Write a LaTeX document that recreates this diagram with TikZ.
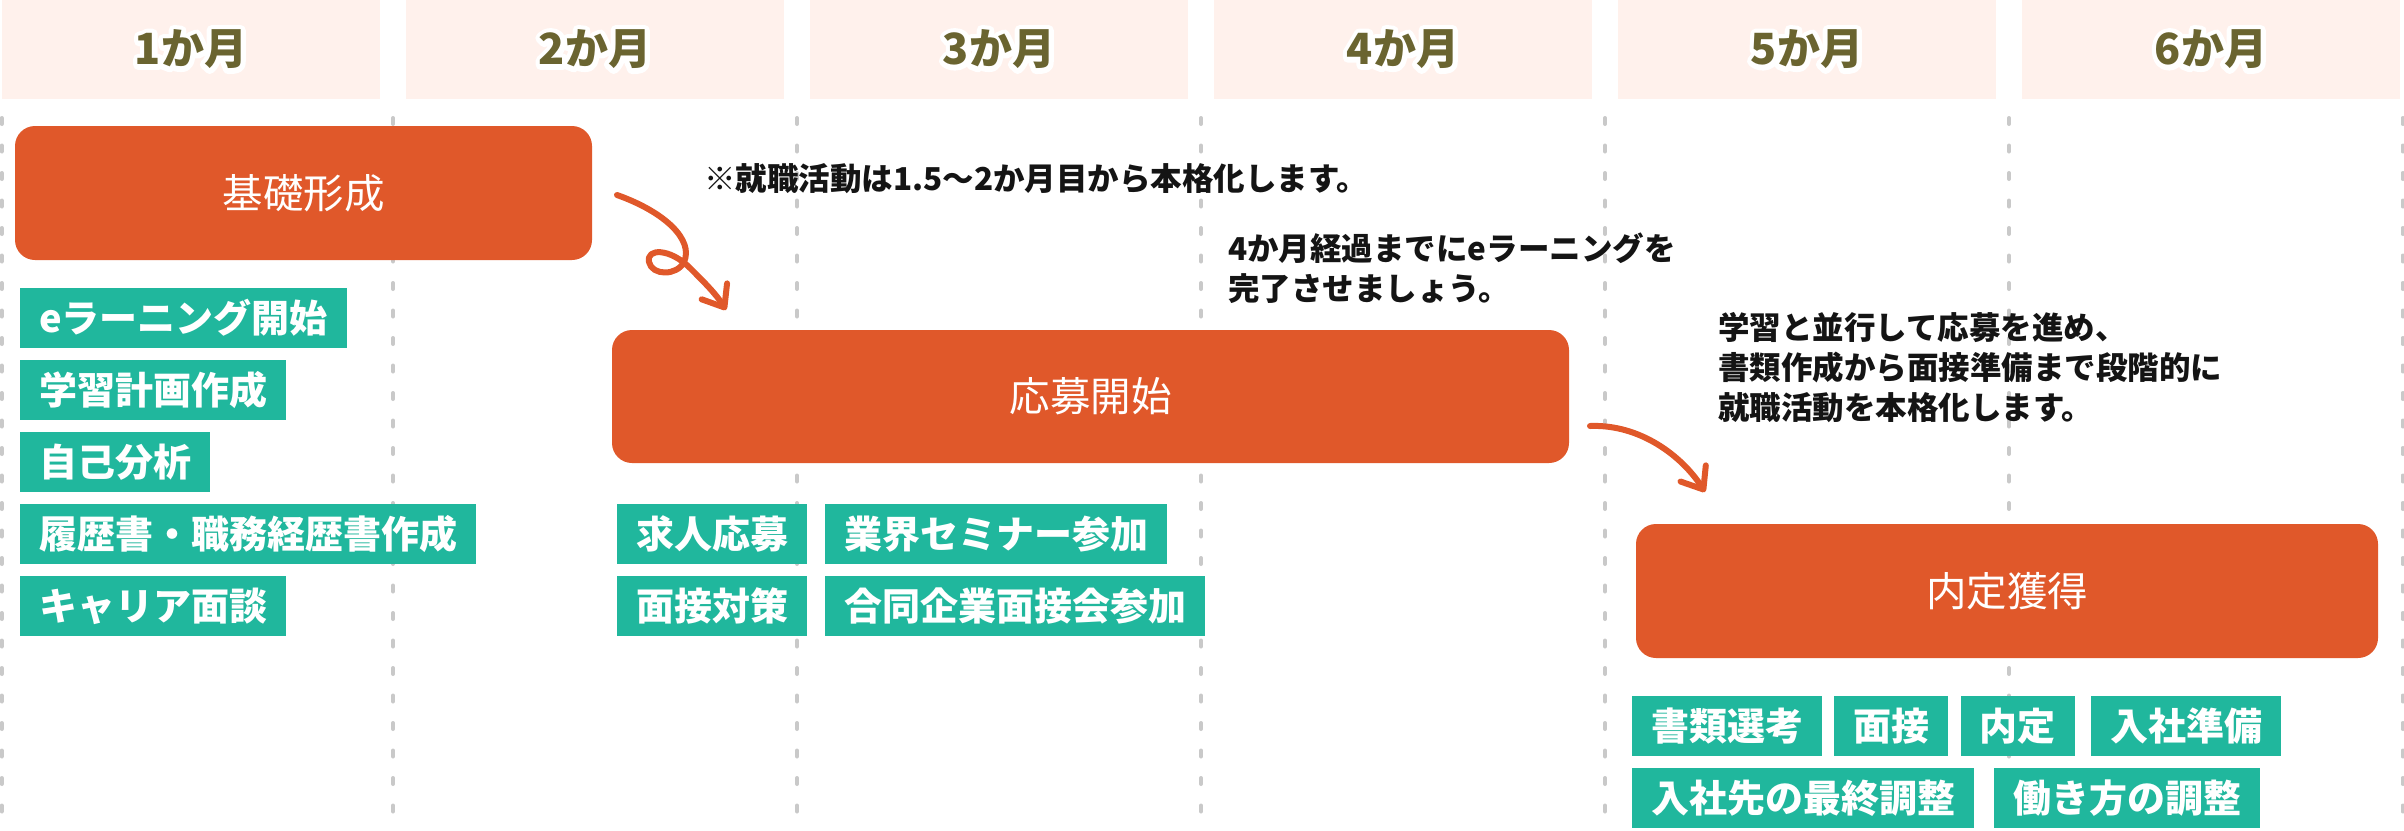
\documentclass[tikz,border=0pt]{standalone}
\usepackage{fontspec}
\setmainfont{Noto Sans CJK JP}
\usetikzlibrary{arrows.meta}
\definecolor{headbg}{HTML}{FFF1EC}
\definecolor{headtxt}{HTML}{6A6430}
\definecolor{stageor}{HTML}{E0582A}
\definecolor{taggreen}{HTML}{20B79D}
\definecolor{gridgray}{HTML}{C9C9C9}
\definecolor{notetxt}{HTML}{141414}
\newcommand\halotext[1]{\leavevmode\rlap{\special{pdf:literal direct 1 1 1 RG 10 w 1 j 2 Tr}#1\special{pdf:literal direct 0 Tr}}#1}
\tikzset{
  headbox/.style={fill=headbg, minimum width=378pt, minimum height=99pt, inner sep=0pt,
    text=headtxt, font=\bfseries\fontsize{43}{50}\selectfont},
  gridline/.style={gridgray, line width=4pt, line cap=round, dash pattern=on 6pt off 21.5pt},
  stage/.style={fill=stageor, rounded corners=20pt, inner sep=0pt, text=white,
    font=\fontsize{40.5}{48}\selectfont},
  tag/.style={fill=taggreen, anchor=north west, minimum height=60pt, inner xsep=19pt, inner ysep=0pt,
    text=white, font=\bfseries\fontsize{38}{45}\selectfont},
  note/.style={anchor=north west, inner sep=0pt, align=left, text=notetxt,
    font=\bfseries\fontsize{31.5}{40}\selectfont},
  flow/.style={stageor, line width=6pt, line cap=round, line join=round,
    -{Straight Barb[length=19pt,width=30pt,round]}}
}
\begin{document}
\begin{tikzpicture}[x=1pt,y=-1pt]
\useasboundingbox (0,0) rectangle (2404,830);
\fill[white] (0,0) rectangle (2404,830);
% month headers
\foreach \i in {1,...,6} {
  \node[headbox] (h\i) at ({191+404*(\i-1)}, 49.5) {\halotext{\i か月}};
}
% dashed column guides
\foreach \x in {1.5,393,797,1201,1605,2009,2402.5} {
  \draw[gridline] (\x,118) -- (\x,830);
}
% stages
\node[stage, minimum width=577pt, minimum height=134pt] (s1) at (303.5,193) {基礎形成};
\node[stage, minimum width=957pt, minimum height=133pt] (s2) at (1090.5,396.5) {応募開始};
\node[stage, minimum width=742pt, minimum height=134pt] (s3) at (2007,591) {内定獲得};
% tags month 1
\node[tag] (t11) at (20,288) {eラーニング開始};
\node[tag] (t12) at (20,360) {学習計画作成};
\node[tag] (t13) at (20,432) {自己分析};
\node[tag] (t14) at (20,504) {履歴書・職務経歴書作成};
\node[tag] (t15) at (20,576) {キャリア面談};
% tags stage 2
\node[tag] (t21) at (617,504) {求人応募};
\node[tag] (t22) at (825,504) {業界セミナー参加};
\node[tag] (t23) at (617,576) {面接対策};
\node[tag] (t24) at (825,576) {合同企業面接会参加};
% tags stage 3
\node[tag] (t31) at (1632,696) {書類選考};
\node[tag] (t32) at (1834,696) {面接};
\node[tag] (t33) at (1960.5,696) {内定};
\node[tag] (t34) at (2091,696) {入社準備};
\node[tag] (t35) at (1632,768) {入社先の最終調整};
\node[tag] (t36) at (1994,768) {働き方の調整};
% notes
\node[note] (n1) at (704,163) {※就職活動は1.5〜2か月目から本格化します。};
\node[note] (n2) at (1228,233) {4か月経過までにeラーニングを\\完了させましょう。};
\node[note] (n3) at (1718,312) {学習と並行して応募を進め、\\書類作成から面接準備まで段階的に\\就職活動を本格化します。};
% arrows
\coordinate (a1s) at (617,195);
\coordinate (a1e) at (726,310);
\coordinate (a2s) at (1590,426);
\coordinate (a2e) at (1705,492);
\draw[flow] (a1s) .. controls (665,212) and (694,240) .. (684,262)
  .. controls (677,276) and (652,276) .. (649,262)
  .. controls (646,248) and (670,248) .. (690,268)
  .. controls (705,283) and (716,294) .. (a1e);
\draw[flow] (a2s) .. controls (1640,424) and (1682,456) .. (a2e);
\end{tikzpicture}
\end{document}
